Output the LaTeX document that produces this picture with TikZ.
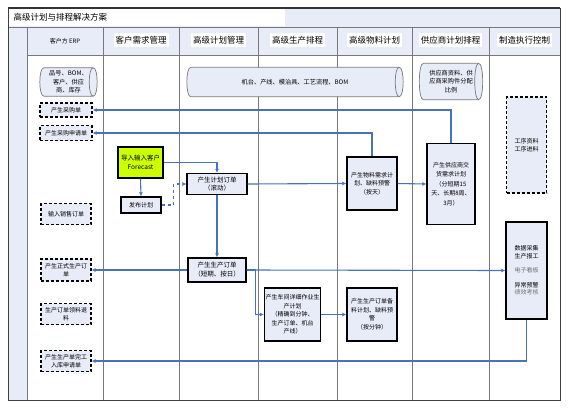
\documentclass[tikz,border=0pt]{standalone}
\usepackage{fontspec}
\setmainfont{Noto Sans CJK SC}
\usepackage{tikz}
\usetikzlibrary{
    positioning,
    arrows.meta,
    calc
}
\definecolor{laneFill}{RGB}{232, 236, 248}
\definecolor{flowBlue}{RGB}{70, 114, 190}
\definecolor{laneGray}{RGB}{120, 120, 120}
\definecolor{limeFill}{RGB}{204, 255, 0}
\pgfdeclarelayer{lanes}
\pgfdeclarelayer{stores}
\pgfsetlayers{lanes,stores,main}

\begin{document}
\begin{tikzpicture}[x=1pt, y=-1pt,
    box/.style={draw=black, line width=1.3pt, fill=laneFill, align=center, inner sep=1pt, font=\fontsize{6}{8.5}\selectfont},
    dbox/.style={box, dash pattern=on 3pt off 2pt},
    storetext/.style={align=center, inner sep=0pt, font=\fontsize{6.2}{8.5}\selectfont},
    storeline/.style={draw=laneGray, line width=0.7pt},
    flow/.style={draw=flowBlue, line width=1.1pt, -{Latex[length=4pt,width=4pt]}},
    lanehead/.style={fill=white, inner xsep=2pt, inner ysep=3pt, font=\fontsize{8.5}{10}\selectfont}
]
            \useasboundingbox (0,0) rectangle (577,412);

            % title bar, header row and left strip
            \begin{pgfonlayer}{lanes}
            \fill[laneFill] (8,8) rectangle (560,55);
            \fill[white] (9,9) rectangle (285,26);
            \fill[laneFill] (8,27) rectangle (27,400);
            \foreach \x in {27,103,179,258,337,412,489}
                \draw[laneGray, line width=0.8pt] (\x,27) -- (\x,400);
            \draw[laneGray, line width=0.8pt] (8,27) -- (560,27);
            \draw[laneGray, line width=0.8pt] (27,55) -- (560,55);
            \draw[black!75, line width=0.8pt] (8,8) rectangle (560,400);
            \draw[black!80, line width=1.6pt] (8,8) -- (560,8);
            \end{pgfonlayer}

            \node[anchor=west, font=\fontsize{8.5}{10}\selectfont] (title) at (10,17.5) {高级计划与排程解决方案};

            % lane headers
            \node[font=\fontsize{6}{8}\selectfont] (hErp) at (65,41) {客户方 ERP};
            \node[lanehead] (hDemand) at (141,40) {客户需求管理};
            \node[lanehead] (hPlan) at (218.5,40) {高级计划管理};
            \node[lanehead] (hSched) at (297.5,40) {高级生产排程};
            \node[lanehead] (hMat) at (374.5,40) {高级物料计划};
            \node[lanehead] (hSup) at (450.5,40) {供应商计划排程};
            \node[lanehead] (hMes) at (524.5,40) {制造执行控制};

            % data stores (outline drawn below the text)
            \node[storetext, minimum width=57pt, minimum height=28pt] (erpStore) at (68.5,82) {品号、BOM、\\客户、供应\\商、库存};
            \node[storetext, minimum width=216pt, minimum height=29pt] (resStore) at (295,82) {机台、产线、模治具、工艺流程、BOM};
            \node[storetext, minimum width=63pt, minimum height=36pt] (supStore) at (451,81.5) {供应商资料、供\\应商采购件分配\\比例};
            \begin{pgfonlayer}{stores}
            \foreach \s in {erpStore,resStore,supStore} {
                \draw[storeline, fill=laneFill]
                    ($(\s.north west)+(4,0)$) -- ($(\s.north east)+(-4,0)$)
                    .. controls ($(\s.north east)+(1.3,0)$) and ($(\s.south east)+(1.3,0)$) .. ($(\s.south east)+(-4,0)$)
                    -- ($(\s.south west)+(4,0)$)
                    .. controls ($(\s.south west)+(-1.3,0)$) and ($(\s.north west)+(-1.3,0)$) .. cycle;
                \draw[storeline]
                    ($(\s.north east)+(-4,0)$)
                    .. controls ($(\s.north east)+(-9.3,0)$) and ($(\s.south east)+(-9.3,0)$) .. ($(\s.south east)+(-4,0)$);
            }
            \end{pgfonlayer}

            % customer ERP
            \node[dbox, minimum width=52pt, minimum height=14pt] (buyOrder) at (66,110) {产生采购单};
            \node[dbox, minimum width=52pt, minimum height=15pt] (buyReq) at (66,133) {产生采购申请单};
            \node[dbox, minimum width=50pt, minimum height=21pt] (salesIn) at (66,214) {输入销售订单};
            \node[dbox, minimum width=50pt, minimum height=22pt] (formalOrd) at (66,270) {产生正式生产订\\单};
            \node[dbox, minimum width=50pt, minimum height=21pt] (pickOrd) at (66,314) {生产订单领料退\\料};
            \node[dbox, minimum width=50pt, minimum height=21pt] (finishReq) at (66,361) {产生生产单完工\\入库申请单};

            % demand and planning
            \node[box, fill=limeFill, minimum width=45pt, minimum height=31pt, font=\fontsize{6.5}{9}\selectfont] (forecast) at (140.5,162.5) {导入输入客户\\Forecast};
            \node[box, minimum width=40pt, minimum height=16pt] (release) at (141,205) {发布计划};
            \node[box, minimum width=60pt, minimum height=21pt, font=\fontsize{6.5}{8.5}\selectfont] (planOrd) at (217,184) {产生计划订单\\（滚动）};
            \node[box, minimum width=58pt, minimum height=24pt, font=\fontsize{6.5}{9}\selectfont] (prodOrd) at (217,270) {产生生产订单\\（短期、按日）};
            \node[box, minimum width=51pt, minimum height=53pt] (detailPlan) at (292.5,314.5) {产生车间详细作业生\\产计划\\（精确到分钟、\\生产订单、机台\\产线）};

            % material and supplier
            \node[box, minimum width=50pt, minimum height=53pt] (mrp) at (372,183.5) {产生物料需求计\\划、缺料预警\\（按天）};
            \node[box, minimum width=50pt, minimum height=53pt] (pickPlan) at (372,314.5) {产生生产订单备\\料计划、缺料预\\警\\（按分钟）};
            \node[box, minimum width=48pt, minimum height=81pt, font=\fontsize{6}{9.5}\selectfont] (supplyPlan) at (451,184) {产生供应商交\\货需求计划\\（分短期15\\天、长期8周、\\3月）};

            % execution
            \node[dbox, minimum width=40pt, minimum height=96pt] (mesData) at (526.5,145) {工序资料\\工序进料};
            \node[box, minimum width=41pt, minimum height=97pt, font=\fontsize{6}{7.5}\selectfont] (mesBox) at (526.5,270.5) {数据采集\\生产报工\\[7pt]{\color{black!55}电子看板}\\[7pt]异常预警\\{\color{black!55}绩效考核}};

            % flows
            \draw[flow] (forecast.east) -| (planOrd.north);
            \draw[flow] (forecast.south) -- (release.north);
            \draw[flow, dashed] (release.east) -- ++(12,0) |- (planOrd.west);
            \draw[flow] (planOrd.east) -- (mrp.west);
            \draw[flow] (planOrd.south) -- (prodOrd.north);
            \draw[flow] (mrp.east) -- (supplyPlan.west);
            \draw[flow] (mrp.north) |- (buyReq.east);
            \draw[flow] (supplyPlan.north) |- (buyOrder.east);
            \draw[flow] (prodOrd.west) -- (formalOrd.east);
            \draw[flow] (prodOrd.east) -- (mesBox.west);
            \draw[flow] (prodOrd.east) -- ++(9,0) |- (detailPlan.west);
            \draw[flow] (detailPlan.east) -- (pickPlan.west);
            \draw[flow] (mesBox.south) |- (finishReq.east);
        \end{tikzpicture}
\end{document}
